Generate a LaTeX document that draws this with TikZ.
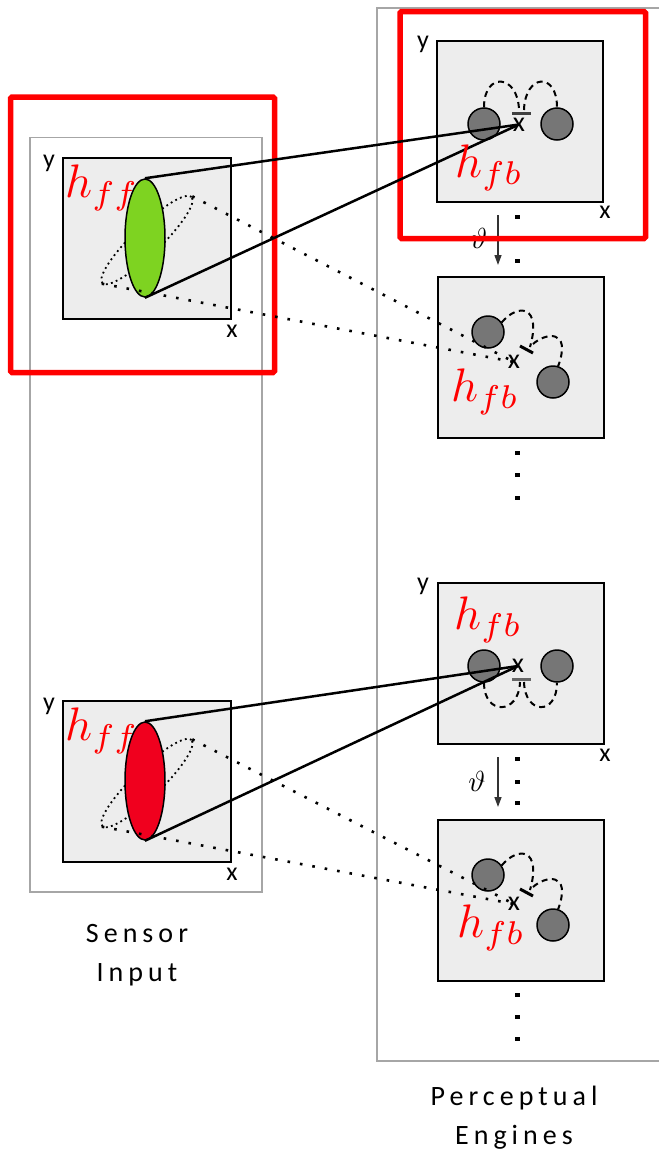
\documentclass[tikz,border=0pt]{standalone}
\usepackage{graphicx}
\usepackage{fontspec}
\setmainfont{Carlito}
\newfontfamily\capfont[LetterSpace=18]{Carlito}
\usetikzlibrary{shapes.geometric,arrows.meta}
\definecolor{panelgray}{HTML}{EDEDED}
\definecolor{discgray}{HTML}{767676}
\definecolor{framegray}{HTML}{A6A6A6}
\definecolor{leafgreen}{HTML}{7ED321}
\definecolor{signalred}{HTML}{F0001E}
\definecolor{hlred}{HTML}{FF0000}
% math set at 10pt and enlarged
\newcommand{\bigmath}[2]{\scalebox{#1}{$#2$}}

\begin{document}
\begin{tikzpicture}[x=1pt,y=-1pt,
  frame/.style={draw=framegray,line width=1.5pt},
  panel/.style={draw=black,fill=panelgray,line width=2pt,minimum width=166pt,minimum height=161pt,inner sep=0pt},
  hilite/.style={draw=hlred,line width=5.5pt,rounded corners=1.5pt},
  disc/.style={circle,draw=black,fill=discgray,line width=1.5pt,minimum size=32pt,inner sep=0pt},
  axislbl/.style={font=\fontsize{26}{26}\selectfont,inner sep=0pt,anchor=base},
  crossmark/.style={font=\fontsize{28}{28}\selectfont,inner sep=0pt},
  hlabel/.style={text=hlred,font=\fontsize{10}{12}\selectfont,inner sep=0pt,anchor=base west},
  blob/.style={ellipse,draw=black,line width=1.5pt,minimum width=40pt,minimum height=118pt,inner sep=0pt},
  orbit/.style={ellipse,draw=black,dash pattern=on 1.8pt off 3.4pt,line width=1.8pt,minimum width=124pt,minimum height=28pt,inner sep=0pt,rotate=44},
  feed/.style={line width=2.5pt},
  trace/.style={line width=2.6pt,dash pattern=on 2.6pt off 10pt},
  recur/.style={dash pattern=on 6pt off 4.5pt,line width=2pt},
  inhib/.style={line width=3pt},
  tick/.style={draw=black!80,line width=1.3pt,-{Triangle[length=10pt,width=7pt]}},
  thetalbl/.style={font=\fontsize{10}{12}\selectfont,inner sep=0pt},
  caption/.style={font=\capfont\fontsize{28}{39}\selectfont,align=center,anchor=base}
]
\useasboundingbox (0,0) rectangle (659,1154);

% outer frames
\draw[frame] (30,137.5) rectangle (262,892);
\draw[frame] (659,8) -- (377,8) -- (377,1061) -- (659,1061);

% sensor panels
\node[panel,minimum width=168pt] (sa) at (147,238.5) {};
\node[panel,minimum width=168pt] (sb) at (147,781.5) {};
% engine panels
\node[panel] (p1) at (520,121.5) {};
\node[panel] (p2) at (520.5,357.5) {};
\node[panel] (p3) at (520.5,663.5) {};
\node[panel] (p4) at (520.5,900.5) {};

% axis labels
\node[axislbl] (ya) at (49,167) {y};
\node[axislbl] (xa) at (232,337) {x};
\node[axislbl] (yb) at (49,710) {y};
\node[axislbl] (xb) at (232,880) {x};
\node[axislbl] (y1) at (423,48) {y};
\node[axislbl] (x1) at (605,218) {x};
\node[axislbl] (y3) at (423,590) {y};
\node[axislbl] (x3) at (605,761) {x};

% receptive fields
\node[orbit] (oa) at (147,240) {};
\node[orbit] (ob) at (147,783) {};
\node[blob,fill=leafgreen] (ea) at (145,238) {};
\node[blob,fill=signalred] (eb) at (145,781) {};

% units
\node[disc] (d1a) at (484,124) {};
\node[disc] (d1b) at (557,124) {};
\node[disc] (d2a) at (488,332) {};
\node[disc] (d2b) at (553,382) {};
\node[disc] (d3a) at (484,666) {};
\node[disc] (d3b) at (557,666) {};
\node[disc] (d4a) at (488,875) {};
\node[disc] (d4b) at (553,925) {};

% crossing points
\node[crossmark] (m1) at (519,124.5) {x};
\node[crossmark] (m2) at (514,362) {x};
\node[crossmark] (m3) at (518,666) {x};
\node[crossmark] (m4) at (514,904) {x};

% inhibitory bars
\coordinate (b1l) at (512,113);
\coordinate (b1r) at (531,113);
\coordinate (b2l) at (520,346);
\coordinate (b2r) at (533,353);
\coordinate (b3l) at (512,679);
\coordinate (b3r) at (531,679);
\coordinate (b4l) at (520,889);
\coordinate (b4r) at (533,896);
\draw[inhib,draw=black!75] (b1l) -- (b1r);
\draw[inhib] (b2l) -- (b2r);
\draw[inhib,draw=black!60] (b3l) -- (b3r);
\draw[inhib] (b4l) -- (b4r);

% recurrent arcs
\coordinate (r1a) at (519,110);
\coordinate (r1b) at (524,110);
\draw[recur] (d1a.north) .. controls +(0,-36) and +(-1,-36) .. (r1a);
\draw[recur] (r1b) .. controls +(1,-36) and +(0,-36) .. (d1b.north);
\coordinate (r3a) at (520,682);
\coordinate (r3b) at (524,682);
\draw[recur] (d3a.south) .. controls +(0,33) and +(-1,33) .. (r3a);
\draw[recur] (r3b) .. controls +(1,33) and +(0,33) .. (d3b.south);
\coordinate (r2a) at (530,347);
\coordinate (r2b) at (533,344);
\draw[recur] (d2a.35) .. controls (518,303) and (542,305) .. (r2a);
\draw[recur] (r2b) .. controls (545,333) and (572,328) .. (d2b.72);
\coordinate (r4a) at (530,890);
\coordinate (r4b) at (533,887);
\draw[recur] (d4a.35) .. controls (518,846) and (542,848) .. (r4a);
\draw[recur] (r4b) .. controls (545,876) and (572,871) .. (d4b.72);

% continuation dots
\foreach \yy in {217,239,261,453,475,498,759,782,803,995,1017,1039}
  \fill[black] (514.5,\yy-2) rectangle ++(5,4);

% time steps
\coordinate (t1s) at (498,215);
\coordinate (t1e) at (498,265);
\coordinate (t2s) at (498,757);
\coordinate (t2e) at (498,807);
\draw[tick] (t1s) -- (t1e);
\draw[tick] (t2s) -- (t2e);
\node[thetalbl] (th1) at (479,238) {\bigmath{2.9}{\vartheta}};
\node[thetalbl] (th2) at (477,781) {\bigmath{2.9}{\vartheta}};

% highlighted regions
\draw[hilite] (10.5,97) rectangle (274.5,372.5);
\draw[hilite] (400,11.5) rectangle (645.5,238.5);

% projections
\draw[trace] (oa.east) -- (m2.center);
\draw[trace] (oa.west) -- (m2.center);
\draw[trace] (ob.east) -- (m4.center);
\draw[trace] (ob.west) -- (m4.center);
\draw[feed] (ea.north) -- (m1.center);
\draw[feed] (ea.south) -- (m1.center);
\draw[feed] (eb.north) -- (m3.center);
\draw[feed] (eb.south) -- (m3.center);

% field labels
\node[hlabel] (hffa) at (65,197) {\bigmath{4.7}{h_{ff}}};
\node[hlabel] (hffb) at (65,740) {\bigmath{4.7}{h_{ff}}};
\node[hlabel] (hfb1) at (455,177) {\bigmath{4.7}{h_{fb}}};
\node[hlabel] (hfb2) at (451,401) {\bigmath{4.7}{h_{fb}}};
\node[hlabel] (hfb3) at (454,629) {\bigmath{4.7}{h_{fb}}};
\node[hlabel] (hfb4) at (457,937) {\bigmath{4.7}{h_{fb}}};

% captions
\node[caption] (cap1) at (137,981) {Sensor\\Input};
\node[caption] (cap2) at (514,1144) {Perceptual\\Engines};
\end{tikzpicture}
\end{document}
